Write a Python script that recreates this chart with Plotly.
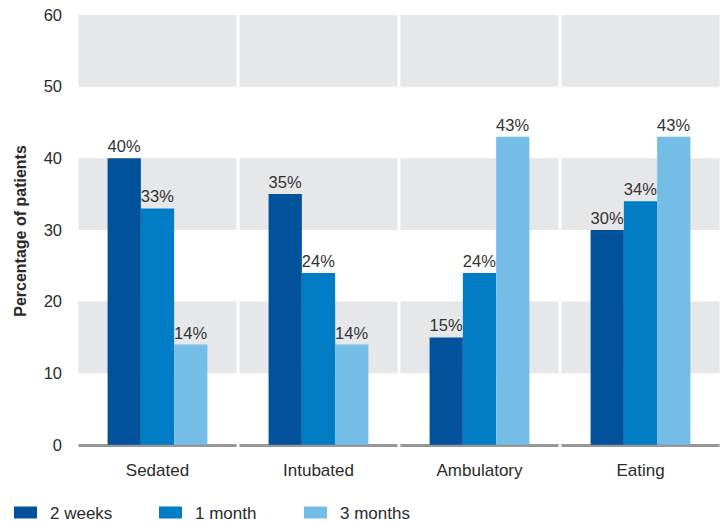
import plotly.graph_objects as go

# Chart data
categories = ["Sedated", "Intubated", "Ambulatory", "Eating"]
series_names = ["2 weeks", "1 month", "3 months"]
two_weeks = [40, 35, 15, 30]
one_month = [33, 24, 24, 34]
three_months = [14, 14, 43, 43]
y_ticks = [0, 10, 20, 30, 40, 50, 60]

colors = ["#01529B", "#007DC4", "#74BDE7"]
band_color = "#E6E7E9"
text_color = "#2b2b2b"
FONT = "Liberation Sans, Arial, sans-serif"

fig = go.Figure()
x_idx = list(range(len(categories)))
for name, vals, col in zip(series_names, [two_weeks, one_month, three_months], colors):
    fig.add_trace(go.Bar(
        name=name, x=x_idx, y=vals,
        marker=dict(color=col, line=dict(width=0)),
        text=[f"{v}%" for v in vals], textposition="outside",
        textfont=dict(size=16.5, color="#333333", family=FONT),
        constraintext="none", cliponaxis=False,
        showlegend=False,
    ))

shapes = []
gap = 0.009
# Alternating grey bands, split per category by a thin white gap
for lo in (10, 30, 50):
    for i in x_idx:
        shapes.append(dict(type="rect", xref="x", yref="y",
                           x0=i - 0.5 + gap, x1=i + 0.5 - gap, y0=lo, y1=lo + 10,
                           fillcolor=band_color, line=dict(width=0), layer="below"))
# Baseline segments
for i in x_idx:
    shapes.append(dict(type="line", xref="x", yref="y",
                       x0=i - 0.5 + gap, x1=i + 0.5 - gap, y0=-0.1, y1=-0.1,
                       line=dict(color="#979797", width=3), layer="below"))

# Legend: swatches and labels below the plot
plot_l, plot_w, plot_bottom, plot_h = 77, 644, 447, 432
def px_x(p):
    return (p - plot_l) / plot_w
def px_y(p):
    return (plot_bottom - p) / plot_h

legend_x = [14, 159, 304]
annotations = []
for name, col, lx in zip(series_names, colors, legend_x):
    shapes.append(dict(type="rect", xref="paper", yref="paper",
                       x0=px_x(lx), x1=px_x(lx + 23), y0=px_y(518.5), y1=px_y(506.5),
                       fillcolor=col, line=dict(width=0)))
    annotations.append(dict(xref="paper", yref="paper", x=px_x(lx + 34), y=px_y(513),
                            xanchor="left", yanchor="middle", text=name, showarrow=False,
                            font=dict(size=17, color=text_color, family=FONT)))

fig.update_layout(
    width=721, height=522,
    margin=dict(l=plot_l, r=0, t=15, b=75),
    paper_bgcolor="white", plot_bgcolor="white",
    barmode="group", bargap=0.38, bargroupgap=0,
    font=dict(family=FONT, color=text_color, size=16),
    shapes=shapes, annotations=annotations,
    xaxis=dict(tickmode="array", tickvals=x_idx, ticktext=categories,
               range=[-0.5, 3.5], showgrid=False, zeroline=False, showline=False,
               ticks="", ticklabelstandoff=11,
               tickfont=dict(size=17, color=text_color, family=FONT)),
    yaxis=dict(range=[-0.3, 60], tickvals=y_ticks, showgrid=False, zeroline=False,
               showline=False, ticks="", ticklabelstandoff=14,
               tickfont=dict(size=16.5, color=text_color, family=FONT),
               title=dict(text="<b>Percentage of patients</b>", standoff=13,
                          font=dict(size=16, color=text_color, family=FONT))),
)

fig.write_html("out.html")
